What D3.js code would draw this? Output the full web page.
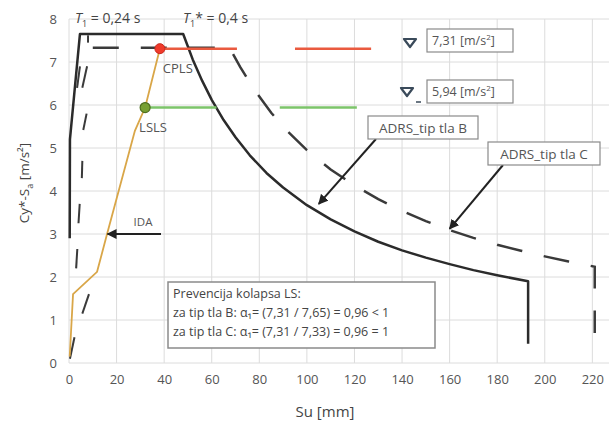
<!DOCTYPE html>
<html><head><meta charset="utf-8">
<script src="https://cdn.jsdelivr.net/npm/d3@7"></script>
<style>
body{margin:0;background:#fff;}
text{font-family:"Open Sans","Noto Sans",sans-serif;}
</style></head>
<body><svg id="c" width="612" height="428"></svg>
<script>
// ---- data ----
const xTicks = [0,20,40,60,80,100,120,140,160,180,200,220];
const yTicks = [0,1,2,3,4,5,6,7,8];
// ADRS ground type B (solid)
const adrsB = [[0.3,2.9],[0.4,5.2],[4.6,7.65],[48,7.65],[52,7.06],[56,6.56],[60,6.12],[65,5.65],[70,5.25],[76,4.83],[83,4.42],[90,4.08],[100,3.67],[110,3.34],[120,3.06],[130,2.82],[140,2.62],[150,2.45],[160,2.30],[170,2.16],[180,2.04],[193,1.90],[193,0.45]];
// ADRS ground type C (dashed)
const adrsC = [[10,7.33],[67.5,7.33],[72,6.88],[78,6.35],[85,5.82],[92,5.38],[100,4.95],[110,4.5],[120,4.13],[130,3.81],[140,3.54],[150,3.30],[160,3.09],[170,2.91],[180,2.75],[190,2.61],[200,2.48],[210,2.36],[221,2.24],[221,0.7]];
const adrsCRise = [[[0.4,0.1],[2.3,0.6]],[[5.6,1.15],[8.4,1.6]],[[3.0,2.2],[3.5,2.65]],[[4.0,3.25],[4.5,3.7]],[[5.4,4.3],[5.6,4.7]],[[6.0,5.42],[7.4,5.8]],[[3.4,6.4],[4.6,6.9]],[[5.6,6.4],[7.6,6.9]],[[8.0,7.45],[8.0,7.62]]];
// IDA curve
const ida = [[0.3,0.15],[1.7,1.6],[11.8,2.12],[16,3.0],[27.7,5.4],[32,5.94],[38.2,7.31]];
const cpls = {x:38.2, y:7.31, label:"CPLS", value:"7,31"};
const lsls = {x:32, y:5.94, label:"LSLS", value:"5,94"};
const cplsSegs = [[38.2,70.6],[95,127]];
const lslsSegs = [[32,62],[88.6,121]];
const noteLines = ["Prevencija kolapsa LS:","za tip tla B: α\u2081= (7,31 / 7,65) = 0,96 < 1","za tip tla C: α\u2081= (7,31 / 7,33) = 0,96 = 1"];

// ---- chart ----
const svg = d3.select("#c");
const x = d3.scaleLinear().domain([0,227]).range([69,609]);
const y = d3.scaleLinear().domain([0,8]).range([363,19]);
const tc = "#555";

// grid
svg.append("g").selectAll("line").data(xTicks).join("line")
  .attr("x1",d=>x(d)).attr("x2",d=>x(d)).attr("y1",y(0)).attr("y2",y(8))
  .attr("stroke","#dcdcdc").attr("stroke-width",1);
svg.append("g").selectAll("line").data(yTicks).join("line")
  .attr("x1",x(0)).attr("x2",x(227)).attr("y1",d=>y(d)).attr("y2",d=>y(d))
  .attr("stroke","#dcdcdc").attr("stroke-width",1);

// axes (labels only)
const xa = svg.append("g").attr("transform",`translate(0,${y(0)})`)
  .call(d3.axisBottom(x).tickValues(xTicks).tickSize(0).tickPadding(12));
xa.select(".domain").remove();
xa.selectAll("text").attr("font-size",13).attr("fill",tc).attr("font-family","Open Sans");
const ya = svg.append("g").attr("transform",`translate(${x(0)},0)`)
  .call(d3.axisLeft(y).tickValues(yTicks).tickSize(0).tickPadding(12));
ya.select(".domain").remove();
ya.selectAll("text").attr("font-size",13).attr("fill",tc).attr("font-family","Open Sans");

// axis titles
svg.append("text").attr("x",325).attr("y",417).attr("text-anchor","middle")
  .attr("font-size",15).attr("fill","#444").text("Su [mm]");
const yt = svg.append("text").attr("transform","translate(29,183) rotate(-90)")
  .attr("text-anchor","middle").attr("font-size",13.5).attr("fill","#444");
yt.append("tspan").text("Cy*-S");
yt.append("tspan").attr("font-size",9).attr("dy",4).text("a");
yt.append("tspan").attr("dy",-4).text(" [m/s²]");

const line = d3.line().x(d=>x(d[0])).y(d=>y(d[1]));

// type C dashed
svg.append("g").selectAll("path").data(adrsCRise).join("path")
  .attr("d",line).attr("fill","none").attr("stroke","#3a3a3a").attr("stroke-width",2);
svg.append("path").attr("d",line(adrsC)).attr("fill","none").attr("stroke","#3a3a3a")
  .attr("stroke-width",2.5).attr("stroke-dasharray","26,22");

// type B solid
svg.append("path").attr("d",line(adrsB)).attr("fill","none").attr("stroke","#2b2b2b")
  .attr("stroke-width",2.5).attr("stroke-linejoin","round");

// CPLS / LSLS lines
svg.append("g").selectAll("line").data(cplsSegs).join("line")
  .attr("x1",d=>x(d[0])).attr("x2",d=>x(d[1])).attr("y1",y(cpls.y)).attr("y2",y(cpls.y))
  .attr("stroke","#ea5a3f").attr("stroke-width",2.5);
svg.append("g").selectAll("line").data(lslsSegs).join("line")
  .attr("x1",d=>x(d[0])).attr("x2",d=>x(d[1])).attr("y1",y(lsls.y)).attr("y2",y(lsls.y))
  .attr("stroke","#7cc46a").attr("stroke-width",2.5);

// IDA
svg.append("path").attr("d",line(ida)).attr("fill","none").attr("stroke","#d9a648").attr("stroke-width",1.8);

// points
svg.append("circle").attr("cx",x(cpls.x)).attr("cy",y(cpls.y)).attr("r",5).attr("fill","#f03a2a").attr("stroke","#c82a20");
svg.append("circle").attr("cx",x(lsls.x)).attr("cy",y(lsls.y)).attr("r",5).attr("fill","#78a032").attr("stroke","#4e6e1e").attr("stroke-width",1.2);
svg.append("text").attr("x",x(cpls.x)+3).attr("y",y(cpls.y)+24).attr("font-size",13).attr("fill",tc).text(cpls.label);
svg.append("text").attr("x",x(lsls.x)-6).attr("y",y(lsls.y)+24).attr("font-size",13).attr("fill",tc).text(lsls.label);

// period labels
function tLabel(px, star, val){
  const t = svg.append("text").attr("x",px).attr("y",23).attr("font-size",14).attr("fill","#444");
  t.append("tspan").attr("font-style","italic").text("T");
  t.append("tspan").attr("font-size",9).attr("dy",4).text("1");
  t.append("tspan").attr("dy",-4).text((star?"* ":" ")+"= "+val);
}
tLabel(75,false,"0,24 s");
tLabel(183,true,"0,4 s");

// level markers (triangles) + boxes
function levelBox(cx, cy, bx, by, txt, underscore){
  svg.append("path").attr("d",`M${cx-6},${cy-4}L${cx+6},${cy-4}L${cx},${cy+4}Z`)
    .attr("fill","none").attr("stroke","#3a4a5a").attr("stroke-width",2.2).attr("stroke-linejoin","round");
  if(underscore) svg.append("line").attr("x1",cx+9).attr("x2",cx+14).attr("y1",cy+10).attr("y2",cy+10).attr("stroke","#3a4a5a").attr("stroke-width",1.5);
  svg.append("rect").attr("x",bx).attr("y",by).attr("width",86).attr("height",23)
    .attr("fill","#fff").attr("stroke","#8a8a8a").attr("stroke-width",1.2);
  const t = svg.append("text").attr("x",bx+5).attr("y",by+16).attr("font-size",12.5).attr("fill",tc);
  t.append("tspan").text(txt+" [m/s");
  t.append("tspan").attr("font-size",8).attr("dy",-5).text("2");
  t.append("tspan").attr("dy",5).text("]");
}
levelBox(410,43,427,29,cpls.value,false);
levelBox(407,92,427,80,lsls.value,true);

// arrow marker
svg.append("defs").append("marker").attr("id","ah").attr("viewBox","0 0 10 10")
  .attr("refX",9).attr("refY",5).attr("markerWidth",5).attr("markerHeight",5).attr("orient","auto")
  .append("path").attr("d","M0,0L10,5L0,10Z").attr("fill","#222");

function callout(bx,by,w,txt,ax1,ay1,ax2,ay2){
  svg.append("line").attr("x1",ax1).attr("y1",ay1).attr("x2",ax2).attr("y2",ay2)
    .attr("stroke","#222").attr("stroke-width",2).attr("marker-end","url(#ah)");
  if(w>0){
    svg.append("rect").attr("x",bx).attr("y",by).attr("width",w).attr("height",23)
      .attr("fill","#fff").attr("stroke","#8a8a8a").attr("stroke-width",1.2);
    svg.append("text").attr("x",bx+w/2).attr("y",by+17).attr("text-anchor","middle")
      .attr("font-size",13.5).attr("fill",tc).text(txt);
  }
}
callout(368,116,110,"ADRS_tip tla B",376,139,x(105),y(3.7));
callout(488,142,112,"ADRS_tip tla C",503,165,x(160),y(3.12));
callout(0,0,0,"",161,y(3.0),x(16.2),y(3.0));
svg.append("text").attr("x",143).attr("y",226).attr("text-anchor","middle").attr("font-size",11.5).attr("fill",tc).text("IDA");

// note box
svg.append("rect").attr("x",168).attr("y",282).attr("width",267).attr("height",66)
  .attr("fill","#fff").attr("stroke","#8a8a8a").attr("stroke-width",1.5);
svg.append("g").selectAll("text").data(noteLines).join("text")
  .attr("x",173).attr("y",(d,i)=>298+i*19).attr("font-size",12.5).attr("fill","#444").text(d=>d);
</script></body></html>
